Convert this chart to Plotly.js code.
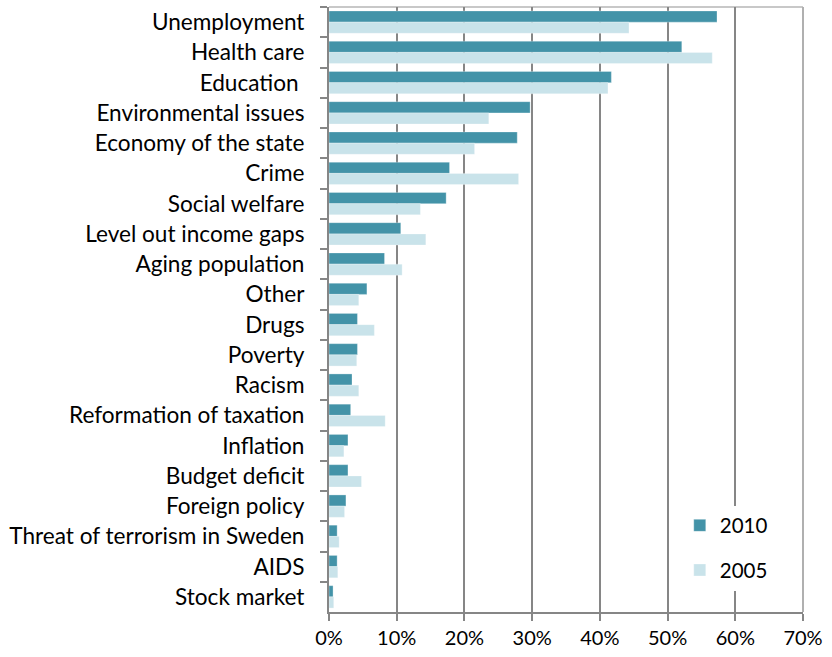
<!DOCTYPE html>
<html>
<head>
<meta charset="utf-8">
<script src="https://cdn.plot.ly/plotly-3.0.1.min.js"></script>
<style>html,body{margin:0;padding:0;background:#fff;}#chart{width:832px;height:657px;}</style>
</head>
<body>
<div id="chart"></div>
<script>
const categories = ["Unemployment","Health care","Education ","Environmental issues","Economy of the state","Crime","Social welfare","Level out income gaps","Aging population","Other","Drugs","Poverty","Racism","Reformation of taxation","Inflation","Budget deficit","Foreign policy","Threat of terrorism in Sweden","AIDS","Stock market"];
const values2010 = [0.573,0.521,0.417,0.297,0.278,0.178,0.173,0.106,0.082,0.056,0.042,0.042,0.034,0.032,0.028,0.028,0.025,0.012,0.012,0.006];
const values2005 = [0.443,0.566,0.412,0.236,0.215,0.280,0.135,0.143,0.108,0.044,0.067,0.041,0.044,0.083,0.022,0.048,0.023,0.015,0.013,0.007];
const xTicks = [0,0.1,0.2,0.3,0.4,0.5,0.6,0.7];

const FONT = "Lato, 'Open Sans', sans-serif";
const data = [
  {type:"bar", orientation:"h", name:"2010", y:categories, x:values2010,
   marker:{color:"#4393A8", line:{color:"rgba(255,255,255,0.6)", width:0.5}}, legendgroup:"a"},
  {type:"bar", orientation:"h", name:"2005", y:categories, x:values2005,
   marker:{color:"#C9E3EA", line:{color:"rgba(255,255,255,0.6)", width:0.5}}, legendgroup:"b"}
];
const layout = {
  width:832, height:657,
  margin:{l:329, r:29, t:7, b:45},
  paper_bgcolor:"#fff", plot_bgcolor:"#fff",
  font:{family:FONT, size:20, color:"#000"},
  barmode:"group", bargap:0.26, bargroupgap:0,
  showlegend:true,
  legend:{x:0.74, y:0.176, xanchor:"left", yanchor:"top", bgcolor:"#fff",
          traceorder:"grouped", tracegroupgap:15, font:{family:FONT, size:20.5, color:"#000"}},
  xaxis:{range:[0,0.7], tickvals:xTicks, tickformat:".0%", showgrid:true, gridcolor:"#868686", gridwidth:2,
         zeroline:false, showline:true, linecolor:"#868686", linewidth:2,
         tickfont:{family:FONT, size:20, color:"#000"},
         ticks:"outside", ticklen:7, tickwidth:2, tickcolor:"#868686", fixedrange:true},
  yaxis:{type:"category", autorange:"reversed", showgrid:false, zeroline:false,
         showline:true, linecolor:"#868686", linewidth:2,
         tickfont:{family:FONT, size:22.6, color:"#000"},
         ticks:"outside", tickson:"boundaries", ticklen:7, tickwidth:2, tickcolor:"#868686",
         ticklabelstandoff:18, fixedrange:true},
  shapes:[
    {type:"line", xref:"paper", yref:"paper", x0:0, x1:1, y0:1, y1:1, line:{color:"#C8C8C8", width:2}, layer:"below"},
    {type:"line", xref:"paper", yref:"paper", x0:1, x1:1, y0:0, y1:1, line:{color:"#B0B0B0", width:2}, layer:"below"}
  ]
};
Plotly.newPlot("chart", data, layout, {displayModeBar:false, staticPlot:true});
</script>
</body>
</html>
